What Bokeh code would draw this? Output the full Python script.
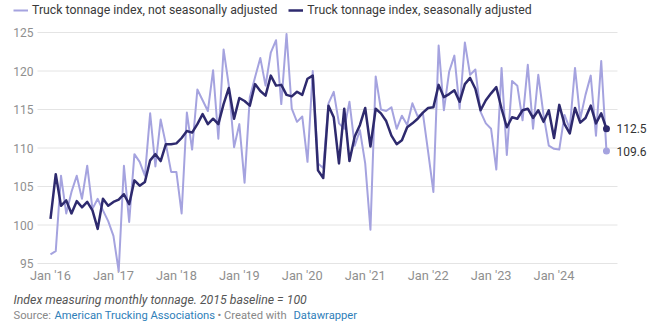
import pandas as pd
from bokeh.plotting import figure
from bokeh.models import (Range1d, Legend, LegendItem, Label, ColumnDataSource)
from bokeh.core.properties import value
from bokeh.embed import file_html
from bokeh.resources import INLINE

# ---------------- data ----------------
months = pd.date_range("2016-01-01", "2024-11-01", freq="MS")

not_seasonally_adjusted = [
    96.2, 96.6, 106.4, 101.5, 104.3, 106.4, 103.4, 107.7, 102.1, 103.4, 101.9, 100.5,   # 2016
    98.6, 94.0, 107.7, 100.4, 109.2, 108.2, 106.4, 114.5, 107.6, 113.7, 110.5, 106.9,   # 2017
    106.9, 101.5, 114.6, 109.8, 117.6, 116.2, 114.8, 120.1, 111.2, 122.8, 118.1, 110.1, # 2018
    113.1, 105.5, 116.6, 119.2, 121.7, 118.1, 122.4, 124.0, 115.7, 124.8, 115.1, 113.4, # 2019
    114.1, 108.2, 120.0, 108.0, 107.4, 115.8, 117.3, 113.2, 112.5, 116.0, 110.3, 112.3, # 2020
    108.0, 99.4, 119.3, 115.0, 114.8, 115.3, 112.5, 114.2, 113.0, 115.8, 114.1, 114.5,  # 2021
    109.5, 104.3, 123.3, 114.9, 119.9, 122.0, 115.1, 123.7, 119.5, 120.2, 114.7, 113.2, # 2022
    112.5, 107.2, 120.4, 109.1, 118.7, 118.1, 113.6, 120.8, 112.5, 119.5, 114.3, 110.3, # 2023
    109.9, 109.8, 114.3, 112.5, 120.4, 113.8, 116.9, 119.4, 111.6, 121.3, 109.6,        # 2024
]

seasonally_adjusted = [
    100.8, 106.6, 102.5, 103.2, 101.5, 103.1, 102.3, 103.0, 101.9, 99.5, 103.4, 102.5,  # 2016
    103.0, 103.3, 104.0, 102.7, 105.8, 105.1, 105.6, 108.4, 109.2, 108.3, 110.5, 110.5, # 2017
    110.6, 111.3, 112.2, 112.0, 113.1, 114.4, 113.1, 113.8, 113.1, 115.7, 117.8, 113.8, # 2018
    116.5, 116.1, 115.5, 118.3, 117.4, 116.8, 119.4, 118.1, 118.2, 116.9, 116.7, 117.3, # 2019
    116.9, 119.0, 119.4, 107.1, 106.1, 115.5, 114.0, 108.0, 115.1, 108.3, 111.5, 113.0, # 2020
    115.2, 110.2, 115.1, 114.5, 113.5, 111.6, 110.5, 111.0, 112.7, 113.2, 113.8, 114.6, # 2021
    115.2, 115.3, 118.2, 116.6, 117.0, 117.5, 116.0, 118.3, 119.1, 117.7, 114.9, 116.2, # 2022
    117.1, 117.9, 115.1, 112.7, 114.0, 113.8, 114.9, 115.1, 113.9, 114.9, 113.4, 114.9, # 2023
    111.3, 115.6, 113.1, 111.9, 115.2, 113.3, 113.9, 115.5, 113.2, 114.5, 112.5,        # 2024
]

y_ticks = [95, 100, 105, 110, 115, 120, 125]
x_tick_dates = ["2016-01-01", "2017-01-01", "2018-01-01", "2019-01-01", "2020-01-01",
                "2021-01-01", "2022-01-01", "2023-01-01", "2024-01-01"]
x_tick_labels = ["Jan '16", "Jan '17", "Jan '18", "Jan '19", "Jan '20",
                 "Jan '21", "Jan '22", "Jan '23", "Jan '24"]

series_labels = ["Truck tonnage index, not seasonally adjusted",
                 "Truck tonnage index, seasonally adjusted"]
note_text = "Index measuring monthly tonnage. 2015 baseline = 100"
source_parts = ["Source:", "American Trucking Associations", "• Created with", "Datawrapper"]

# ---------------- styling ----------------
FONT = "Roboto"
LIGHT = "#a5a3df"
DARK = "#2e2a6e"
GRID = "#e4e4e4"
AXIS_TXT = "#8f8f8f"
LINK = "#2f80b9"
NOTE = "#888888"

start = pd.Timestamp("2016-01-01")
def month_index(d):
    d = pd.Timestamp(d)
    return (d.year - start.year) * 12 + (d.month - start.month)

x = [month_index(m) for m in months]
x_ticks = [month_index(d) for d in x_tick_dates]

# plot area extents (data units) for the horizontal grid lines
GX0, GX1 = -2.48, 108.1

p = figure(width=659, height=324, output_backend="svg", toolbar_location=None,
           x_range=Range1d(-9.533, 116.11), y_range=Range1d(87.08, 129.156),
           x_axis_location=None, y_axis_location=None,
           min_border_left=0, min_border_right=0, min_border_top=0,
           min_border_bottom=0)
p.outline_line_color = None
p.grid.visible = False
p.background_fill_color = "white"
p.border_fill_color = "white"

# grid lines + y tick labels
grid_src = ColumnDataSource(dict(y=y_ticks, lab=[str(t) for t in y_ticks]))
p.segment(x0=GX0, x1=GX1, y0="y", y1="y", source=grid_src,
          line_color=GRID, line_width=1)
p.text(x=GX0, y="y", text="lab", source=grid_src, x_offset=-4,
       text_align="right", text_baseline="middle", text_font=value(FONT),
       text_font_size="12px", text_color=AXIS_TXT)

# x tick labels
xt_src = ColumnDataSource(dict(x=x_ticks, lab=x_tick_labels))
p.text(x="x", y=y_ticks[0], text="lab", source=xt_src, y_offset=12,
       text_align="center", text_baseline="middle", text_font=value(FONT),
       text_font_size="12.8px", text_color=AXIS_TXT)

# series
src = ColumnDataSource(dict(x=x, nsa=not_seasonally_adjusted, sa=seasonally_adjusted))
r_light = p.line("x", "nsa", source=src, line_color=LIGHT, line_width=2,
                 line_join="round")
r_dark = p.line("x", "sa", source=src, line_color=DARK, line_width=2.5,
                line_join="round")

# end points + value labels
end_src = ColumnDataSource(dict(
    x=[x[-1], x[-1]],
    y=[seasonally_adjusted[-1], not_seasonally_adjusted[-1]],
    lab=[f"{seasonally_adjusted[-1]:.1f}", f"{not_seasonally_adjusted[-1]:.1f}"],
    c=[DARK, LIGHT]))
p.scatter("x", "y", source=end_src, size=7, color="c", line_color=None)
p.text(x="x", y="y", text="lab", source=end_src, x_offset=10,
       text_baseline="middle", text_font=value(FONT),
       text_font_size="12px", text_color="#333333")

# legend
legend = Legend(items=[LegendItem(label=series_labels[0], renderers=[r_light]),
                       LegendItem(label=series_labels[1], renderers=[r_dark])],
                orientation="horizontal", location=(13, 304),
                glyph_width=15, glyph_height=20, label_height=20,
                label_standoff=4, spacing=11, padding=0, margin=0,
                border_line_color=None, background_fill_alpha=0,
                label_text_font=FONT, label_text_font_size="12.3px",
                label_text_color="#3a3a3a")
p.add_layout(legend)

# notes (screen units from the bottom-left corner)
p.add_layout(Label(x=13, y=25, x_units="screen", y_units="screen",
                   text=note_text, text_font=FONT, text_font_size="12.3px",
                   text_font_style="italic", text_color="#555555",
                   text_baseline="middle"))
for t, c, xx in zip(source_parts, [NOTE, LINK, NOTE, LINK], [13, 54, 217, 293]):
    p.add_layout(Label(x=xx, y=9, x_units="screen", y_units="screen", text=t,
                       text_font=FONT, text_font_size="11.2px", text_color=c,
                       text_baseline="middle"))

open("out.html", "w").write(file_html(p, INLINE))
